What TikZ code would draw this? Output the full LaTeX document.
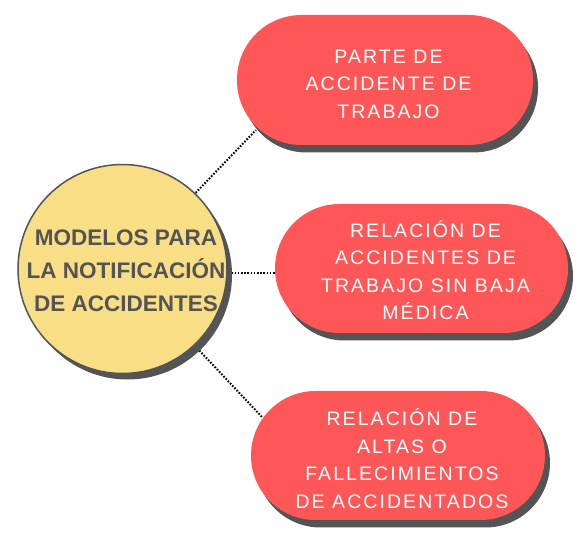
\documentclass[tikz,border=0pt]{standalone}
\usepackage{fontspec}
\setmainfont{Liberation Sans}
\newfontfamily\pillfont[LetterSpace=10.6]{Liberation Sans}
\usetikzlibrary{shadows,backgrounds}
\definecolor{pillred}{HTML}{FF5757}
\definecolor{circyellow}{HTML}{F8DE85}
\definecolor{inkgray}{HTML}{545454}
\begin{document}
\begin{tikzpicture}[x=1pt,y=1pt,
  pill/.style={rectangle, rounded corners=64.5pt, fill=pillred, inner sep=0pt,
    drop shadow={shadow xshift=5pt, shadow yshift=-7.5pt, fill=inkgray, opacity=1}},
  pilltext/.style={text=white, align=center, inner sep=0pt,
    font=\pillfont\fontsize{19.5}{27.5}\selectfont},
  hub/.style={circle, fill=circyellow, draw=inkgray, line width=1.5pt, inner sep=0pt,
    minimum size=209pt,
    drop shadow={shadow xshift=5pt, shadow yshift=-6pt, fill=inkgray, opacity=1}},
  hubtext/.style={text=inkgray, align=center, inner sep=0pt,
    font=\bfseries\fontsize{22.5}{33}\selectfont},
  link/.style={line width=2pt, dash pattern=on 1.6pt off 1.6pt}]
\useasboundingbox (0,0) rectangle (587,544);
% hub
\node[hub] (circ) at (122.5,275) {};
\node[hubtext] (ct) at (126,273.3) {MODELOS PARA\\LA NOTIFICACIÓN\\DE ACCIDENTES};
% pills
\node[pill, minimum width=296pt, minimum height=130pt] (p1) at (385,464) {};
\node[pill, minimum width=293pt, minimum height=129pt] (p2) at (421.5,275.5) {};
\node[pill, minimum width=294pt, minimum height=129pt] (p3) at (398,88.5) {};
\node[pilltext] (t1) at (388.5,460) {PARTE DE\\ACCIDENTE DE\\TRABAJO};
\node[pilltext] (t2) at (425.5,274) {RELACIÓN DE\\ACCIDENTES DE\\TRABAJO SIN BAJA\\MÉDICA};
\node[pilltext] (t3) at (402,85.3) {RELACIÓN DE\\ALTAS O\\FALLECIMIENTOS\\DE ACCIDENTADOS};
% connector ends on the pills
\coordinate (e1) at (256,414);
\coordinate (e2) at (276,271);
\coordinate (e3) at (262,127);
\begin{scope}[on background layer]
\draw[link] (circ.center) -- (e1);
\draw[link] (circ.center |- e2) -- (e2);
\draw[link] (circ.center) -- (e3);
\end{scope}
\end{tikzpicture}
\end{document}
